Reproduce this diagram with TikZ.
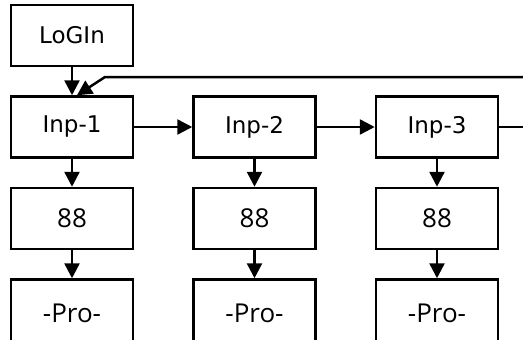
\documentclass[tikz,border=0pt]{standalone}
\usepackage{fontspec}
\setmainfont{DejaVu Sans}
\newfontfamily\digitfont{Open Sans}
\usetikzlibrary{positioning, arrows.meta}

\begin{document}
\begin{tikzpicture}[x=1pt, y=-1pt, >={Triangle[length=15pt, width=15pt]}, line width=2.5pt,
    node distance=28pt and 58pt,
    box/.style={draw, minimum width=122pt, minimum height=61pt, inner sep=0pt,
      font=\fontsize{23}{27}\selectfont},
    valbox/.style={box, font=\digitfont\fontsize{26}{30}\selectfont},
    probox/.style={valbox, minimum height=68pt}]
    \useasboundingbox (0,0) rectangle (523,340);

    \node[box] (login) at (72,35.5) {LoGIn};
    \node[box, below=of login] (inp1) {Inp-1};
    \node[box, right=of inp1] (inp2) {Inp-2};
    \node[box, right=of inp2] (inp3) {Inp-3};

    \foreach \c in {1,2,3} {
      \node[valbox, below=of inp\c] (val\c) {88};
      \node[probox, below=of val\c] (pro\c) {-Pro-};
      \draw[->] (inp\c) -- (val\c);
      \draw[->] (val\c) -- (pro\c);
    }

    \coordinate (loopin) at (523,77);
    \coordinate (loopbend) at (105,77);

    \draw[->] (login) -- (inp1);
    \draw[->] (inp1) -- (inp2);
    \draw[->] (inp2) -- (inp3);
    \draw (inp3) -- (inp3 -| loopin);
    \draw[->] (loopin) -- (loopbend) -- ([xshift=5pt]inp1.north);
\end{tikzpicture}
\end{document}
